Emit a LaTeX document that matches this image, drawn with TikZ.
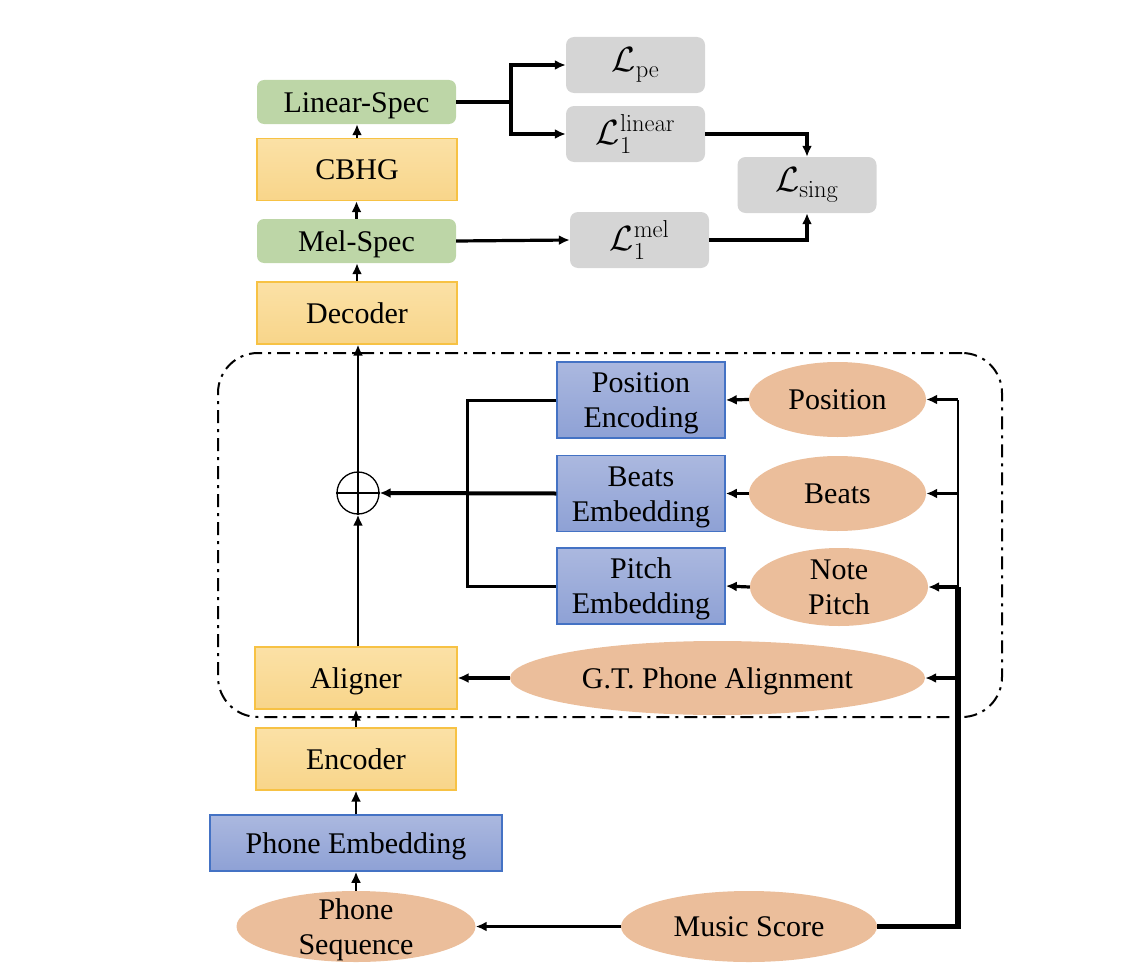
\RequirePackage{fix-cm}
\documentclass[tikz,border=0pt]{standalone}
\usepackage[no-math]{fontspec}
\setmainfont{Liberation Serif}
\usetikzlibrary{arrows.meta,shapes.geometric,calc}
\definecolor{specgreen}{HTML}{BDD6A7}
\definecolor{orgtop}{HTML}{FBE1A6}
\definecolor{orgbot}{HTML}{F8D58A}
\definecolor{orgedge}{HTML}{F7C244}
\definecolor{bluetop}{HTML}{ABB8DF}
\definecolor{bluebot}{HTML}{8EA1D5}
\definecolor{blueedge}{HTML}{4472C4}
\definecolor{ellfill}{HTML}{EBBE9B}
\definecolor{lossgray}{HTML}{D5D5D5}
\begin{document}
\begin{tikzpicture}[x=1pt,y=-1pt,
  font=\fontsize{30}{35}\selectfont,
  >={Latex[length=11pt,width=10pt]},
  sl/.style={text height=21pt, text depth=1pt},
  ml/.style={text height=60pt, text depth=5pt},
  greenbox/.style={rectangle, rounded corners=7pt, fill=specgreen, draw=none, minimum width=199pt, minimum height=44pt, inner sep=0pt, sl},
  orangebox/.style={rectangle, top color=orgtop, bottom color=orgbot, draw=orgedge, line width=1.2pt, minimum width=200pt, minimum height=62pt, inner sep=0pt, sl},
  bluebox/.style={rectangle, top color=bluetop, bottom color=bluebot, draw=blueedge, line width=1.5pt, minimum width=168pt, minimum height=76pt, inner sep=0pt, align=center, ml},
  ell/.style={ellipse, fill=ellfill, draw=none, inner sep=0pt, align=center},
  mlell/.style={ell, ml, inner xsep=0pt, inner ysep=-8pt},
  lossbox/.style={rectangle, rounded corners=8pt, fill=lossgray, draw=none, minimum width=139pt, minimum height=56pt, inner sep=0pt, font=\fontsize{35}{40}\selectfont},
  arr/.style={->, line width=2.4pt},
  wide/.style={line width=3.2pt},
  ln/.style={line width=3pt}
]
\useasboundingbox (0,0) rectangle (1146,974);

% frame
\node[draw, line width=2pt, dash pattern=on 13pt off 6pt on 3pt off 6pt, rounded corners=40pt, minimum width=784pt, minimum height=364pt] (frame) at (610,535) {};

% left column
\node[greenbox] (lin) at (356.5,102) {Linear-Spec};
\node[orangebox] (cbhg) at (357,169.5) {CBHG};
\node[greenbox] (mel) at (356.5,241) {Mel-Spec};
\node[orangebox] (dec) at (357,313) {Decoder};
\node[circle, draw, line width=1.3pt, minimum size=42pt, inner sep=0pt] (plus) at (358,493) {};
\draw[line width=1.3pt] (plus.north) -- (plus.south) (plus.west) -- (plus.east);
\node[orangebox, minimum width=202pt] (ali) at (356,678) {Aligner};
\node[orangebox] (enc) at (356,759) {Encoder};
\node[bluebox, minimum width=292pt, minimum height=56pt, sl] (pemb) at (356,843) {Phone Embedding};
\node[mlell, minimum width=239pt, minimum height=71pt] (pseq) at (356,926.5) {Phone\\Sequence};
\node[ell, minimum width=256pt, minimum height=71pt, sl] (ms) at (749,926.5) {Music Score};

% embeddings
\node[bluebox] (pe) at (641,400) {Position\\Encoding};
\node[bluebox] (be) at (641,493.5) {Beats\\Embedding};
\node[bluebox] (pi) at (641,586) {Pitch\\Embedding};
\node[ell, minimum width=177pt, minimum height=75pt, sl] (pos) at (837.5,399.5) {Position};
\node[ell, minimum width=177pt, minimum height=75pt, sl] (bts) at (837.5,493.5) {Beats};
\node[mlell, minimum width=178pt, minimum height=78pt] (np) at (839,587) {Note\\Pitch};
\node[ell, minimum width=415pt, minimum height=74pt, sl] (gt) at (717.5,678) {G.T. Phone Alignment};

% losses
\node[lossbox] (lpe) at (635.5,65) {$\mathcal{L}_{\mathrm{pe}}$};
\node[lossbox] (llin) at (635.5,134) {$\mathcal{L}_1^{\mathrm{linear}}$};
\node[lossbox] (lsing) at (807,185) {$\mathcal{L}_{\mathrm{sing}}$};
\node[lossbox] (lmel) at (639.5,240) {$\mathcal{L}_1^{\mathrm{mel}}$};

% helper coordinates
\coordinate (tb) at (511,0);
\coordinate (bus) at (467,0);
\coordinate (rbus) at (958,0);

% vertical column arrows
\draw[arr] (cbhg.north) -- (cbhg.north |- lin.south);
\draw[arr] (mel.north) -- (mel.north |- cbhg.south);
\draw[arr] (dec.north) -- (dec.north |- mel.south);
\draw[arr] (plus.north) -- (plus.north |- dec.south);
\draw[arr] (ali.north -| plus.south) -- (plus.south);
\draw[arr] (enc.north) -- (enc.north |- ali.south);
\draw[arr] (pemb.north) -- (pemb.north |- enc.south);
\draw[arr] (pseq.north) -- (pseq.north |- pemb.south);

% losses connectors
\draw[wide] (lin.east) -- (lin.east -| tb);
\draw[arr, wide] (lin.east -| tb) |- (lpe.west);
\draw[arr, wide] (lin.east -| tb) |- (llin.west);
\draw[arr, wide] (llin.east) -| (lsing.north);
\draw[arr, wide] (mel.east) -- (lmel.west);
\draw[arr, wide] (lmel.east) -| (lsing.south);

% embeddings to plus
\draw[ln] (pe.west) -- (pe.west -| bus) -- (pi.west -| bus) -- (pi.west);
\draw[arr, line width=4pt] (be.west) -- (plus.east);

% ellipses to embeddings
\draw[arr, wide] (pos.west) -- (pe.east);
\draw[arr, wide] (bts.west) -- (be.east);
\draw[arr, wide] (np.west) -- (pi.east);
\draw[arr, wide] (gt.west) -- (ali.east);

% music score bus
\draw[line width=5.5pt] (ms.east) -| (rbus |- np.east);
\draw[line width=2.8pt] (rbus |- np.east) -- (rbus |- pos.east);
\draw[arr, wide] (rbus |- pos.east) -- (pos.east);
\draw[arr, wide] (rbus |- bts.east) -- (bts.east);
\draw[arr, wide] (rbus |- np.east) -- (np.east);
\draw[arr, wide] (rbus |- gt.east) -- (gt.east);
\draw[arr, wide] (ms.west) -- (pseq.east);
\end{tikzpicture}
\end{document}
